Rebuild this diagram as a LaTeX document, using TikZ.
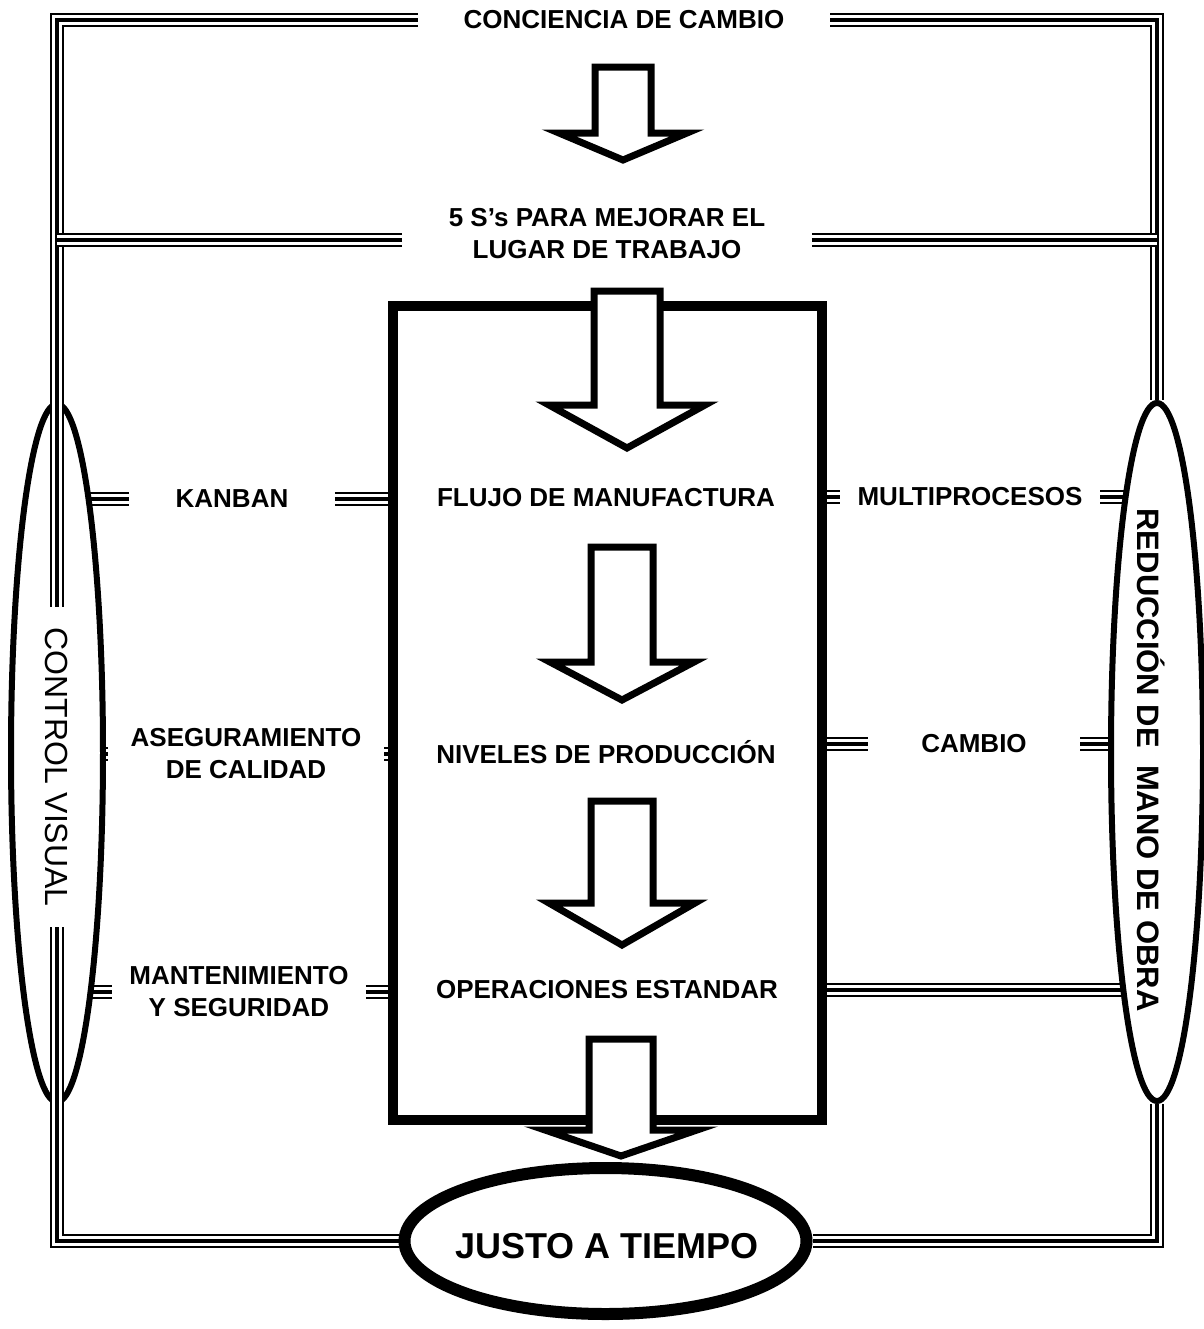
\documentclass[tikz,border=0pt]{standalone}
\usepackage{fontspec}
\setmainfont{Liberation Sans}
\usetikzlibrary{shapes.geometric}
\pgfdeclarelayer{fondo}
\pgfsetlayers{fondo,main}

% flecha de bloque: x, arriba, base de la punta, punta, medio cuerpo, media punta
\newcommand{\flecha}[6]{%
  \draw[bloque] (#1-#5,#2) -- (#1+#5,#2) -- (#1+#5,#3) -- (#1+#6,#3)
    -- (#1,#4) -- (#1-#6,#3) -- (#1-#5,#3) -- cycle;}

\begin{document}
\begin{tikzpicture}[x=0.5pt, y=-0.5pt,
  texto/.style={font=\fontsize{13}{16}\selectfont\bfseries, align=center, inner sep=0pt},
  marco/.style={line width=2pt, preaction={draw, line width=7pt}, preaction={draw, white, line width=4.8pt}},
  lado/.style={ellipse, draw, line width=3pt, fill=white, minimum width=46pt, minimum height=349pt, inner sep=0pt},
  caja/.style={rectangle, draw, line width=5pt, minimum width=214.5pt, minimum height=407pt},
  meta/.style={ellipse, draw, line width=6pt, fill=white, minimum width=201pt, minimum height=73pt},
  bloque/.style={draw, fill=white, line width=3.5pt},
  vertical/.style={rotate=-90, fill=white, inner xsep=10pt, inner ysep=1pt}
]
  \useasboundingbox (0,0) rectangle (1204,1329);

  % textos
  \node[texto, minimum width=206pt] (conc) at (624,20) {CONCIENCIA DE CAMBIO};
  \node[texto, minimum width=204.5pt] (cinco) at (607,234) {5 S’s PARA MEJORAR EL\\LUGAR DE TRABAJO};
  \node[texto, minimum width=102.5pt] (kanban) at (232,499) {KANBAN};
  \node[texto] (flujo) at (606,498) {FLUJO DE MANUFACTURA};
  \node[texto, minimum width=130pt] (multi) at (970,497) {MULTIPROCESOS};
  \node[texto, minimum width=138pt] (aseg) at (246,754) {ASEGURAMIENTO\\DE CALIDAD};
  \node[texto] (niveles) at (606,752) {NIVELES DE PRODUCCIÓN};
  \node[texto, minimum width=106pt] (cambio) at (974,744) {CAMBIO};
  \node[texto, minimum width=126.5pt] (mant) at (239,992) {MANTENIMIENTO\\Y SEGURIDAD};
  \node[texto] (oper) at (607,990) {OPERACIONES ESTANDAR};

  % figuras
  \node[lado] (cv) at (57,753) {};
  \node[lado] (rm) at (1157,752) {};
  \node[caja] (caja) at (607.5,713) {};
  \node[meta] (jat) at (605.5,1241) {};

  \begin{pgfonlayer}{fondo}
    % marco exterior
    \draw[marco] (conc.west) -| (cv.north);
    \draw[marco] (conc.east) -| (rm.north);
    \draw[marco] (cv.south) |- (jat.west);
    \draw[marco] (rm.south) |- (jat.east);
    \draw[marco] ([yshift=-3pt]cinco.west) -- ([yshift=-3pt]cinco.west -| cv.north);
    \draw[marco] ([yshift=-3pt]cinco.east) -- ([yshift=-3pt]cinco.east -| rm.north);
    % ramales
    \draw[marco] (cv.center |- kanban) -- (kanban.west);
    \draw[marco] (kanban.east) -- (kanban.east -| caja.west);
    \draw[marco] (caja.east |- multi) -- (multi.west);
    \draw[marco] (multi.east) -- (multi.east -| rm.center);
    \draw[marco] (cv.center |- aseg) -- (aseg.west);
    \draw[marco] (aseg.east) -- (aseg.east -| caja.west);
    \draw[marco] (caja.east |- cambio) -- (cambio.west);
    \draw[marco] (cambio.east) -- (cambio.east -| rm.center);
    \draw[marco] (cv.center |- mant) -- (mant.west);
    \draw[marco] (mant.east) -- (mant.east -| caja.west);
    \draw[marco] (caja.east |- oper) -- (oper.east -| rm.center);
  \end{pgfonlayer}

  \draw[marco] (cv.north) -- (cv.south);
  \node[vertical, font=\fontsize{16}{18}\selectfont] (cvtxt) at (57,767) {CONTROL VISUAL};
  \node[vertical, font=\fontsize{15.5}{18}\selectfont\bfseries] (rmtxt) at (1151,760) {REDUCCIÓN DE~~MANO DE OBRA};
  \node[font=\fontsize{18}{20}\selectfont\bfseries] (jattxt) at (607,1246) {JUSTO A TIEMPO};

  % flechas
  \flecha{623}{67}{133}{160}{28}{64}
  \flecha{627}{291}{405}{448}{33}{78}
  \flecha{622}{547}{662}{700}{31}{72}
  \flecha{622}{801}{903}{945}{31}{73}
  \flecha{621}{1039}{1130}{1156}{32}{76}
\end{tikzpicture}
\end{document}
